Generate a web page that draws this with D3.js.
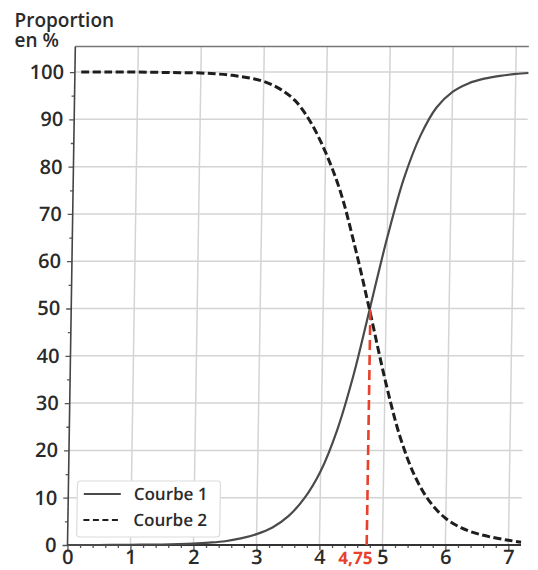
<!DOCTYPE html>
<html>
<head>
<meta charset="utf-8">
<script src="https://cdn.jsdelivr.net/npm/d3@7"></script>
<style>
  html, body { margin: 0; padding: 0; background: #fff; }
  svg { display: block; }
</style>
</head>
<body>
<svg id="chart" width="538" height="570"></svg>
<script>
// ---- data ----
const xTicks = [0, 1, 2, 3, 4, 5, 6, 7];
const yTicks = [0, 10, 20, 30, 40, 50, 60, 70, 80, 90, 100];
const seriesNames = ["Courbe 1", "Courbe 2"];

const curve1X = [0, 0.5, 1, 1.5, 2, 2.25, 2.5, 2.75, 3, 3.25, 3.5, 3.75, 4, 4.25, 4.5, 4.75, 5, 5.25, 5.5, 5.75, 6, 6.25, 6.5, 6.75, 7, 7.2];
const curve1Y = [0, 0, 0.05, 0.1, 0.3, 0.5, 0.8, 1.4, 2.3, 3.7, 6.1, 9.9, 15.6, 24.2, 36, 50.5, 65, 77.5, 86.5, 92.5, 95.8, 97.6, 98.6, 99.2, 99.6, 99.8];

const curve2X = [0.1, 0.5, 1, 1.5, 2, 2.25, 2.5, 2.75, 3, 3.25, 3.5, 3.75, 4, 4.25, 4.5, 4.75, 5, 5.25, 5.5, 5.75, 6, 6.25, 6.5, 6.75, 7, 7.2];
const curve2Y = [100, 100, 100, 99.9, 99.8, 99.6, 99.3, 98.8, 98, 96.5, 94, 89.5, 83, 74.5, 62.5, 49, 35, 23, 14.5, 9, 5.6, 3.6, 2.4, 1.6, 1.0, 0.6];

const markX = 4.75;
const markY = 50;
const markLabel = "4,75";

// ---- layout ----
const svg = d3.select("#chart");
const x = d3.scaleLinear().domain([0, 7.2]).range([67.5, 521]);
const y = d3.scaleLinear().domain([0, 105.4]).range([545, 46.5]);

const font = "'Open Sans', 'DejaVu Sans', sans-serif";

// title
svg.append("text").attr("x", 14.5).attr("y", 26.5).attr("font-family", font)
  .attr("font-weight", 600).attr("font-size", 19).attr("fill", "#2a2a2a").text("Proportion");
svg.append("text").attr("x", 14.5).attr("y", 47).attr("font-family", font)
  .attr("font-weight", 600).attr("font-size", 19).attr("fill", "#2a2a2a").text("en %");

// slight scan skew
const g = svg.append("g").attr("transform", "translate(0,545) skewX(-0.9) translate(0,-545)");

// grid
g.append("g").selectAll("line").data(yTicks.filter(d => d > 0)).join("line")
  .attr("x1", x(0)).attr("x2", x(7.2)).attr("y1", d => y(d)).attr("y2", d => y(d))
  .attr("stroke", "#d4d4d4").attr("stroke-width", 1.5);
g.append("g").selectAll("line").data(xTicks.filter(d => d > 0)).join("line")
  .attr("x1", d => x(d)).attr("x2", d => x(d)).attr("y1", y(0)).attr("y2", y(105.4))
  .attr("stroke", "#d4d4d4").attr("stroke-width", 1.5);

// top frame line
g.append("line").attr("x1", x(0)).attr("x2", x(7.2)).attr("y1", y(105.4)).attr("y2", y(105.4))
  .attr("stroke", "#777").attr("stroke-width", 1.5);

// axes
const yAxis = d3.axisLeft(y).tickValues(yTicks).tickSize(5).tickPadding(6).tickFormat(d3.format("d"));
const yMinor = d3.axisLeft(y).tickValues(d3.range(5, 105, 10)).tickSize(3).tickFormat("");
const xAxis = d3.axisBottom(x).tickValues(xTicks).tickSize(5).tickPadding(4).tickFormat(d3.format("d"));
const xMinor = d3.axisBottom(x).tickValues(d3.range(0.2, 7.2, 0.2).filter(v => Math.abs(v - Math.round(v)) > 0.05)).tickSize(3).tickFormat("");

function styleAxis(sel) {
  sel.select(".domain").remove();
  sel.selectAll(".tick line").attr("stroke", "#555").attr("stroke-width", 1.3);
  sel.selectAll(".tick text").attr("font-family", font).attr("font-weight", 600)
    .attr("font-size", 20).attr("fill", "#2a2a2a");
}
g.append("g").attr("transform", `translate(${x(0)},0)`).call(yMinor).call(styleAxis);
g.append("g").attr("transform", `translate(${x(0)},0)`).call(yAxis).call(styleAxis);
g.append("g").attr("transform", `translate(0,${y(0)})`).call(xMinor).call(styleAxis);
const xa = g.append("g").attr("transform", `translate(0,${y(0)})`).call(xAxis).call(styleAxis);
xa.selectAll(".tick text").attr("dy", "10px");

// spines
g.append("line").attr("x1", x(0)).attr("x2", x(0)).attr("y1", y(0)).attr("y2", y(105.4))
  .attr("stroke", "#444").attr("stroke-width", 1.6);
g.append("line").attr("x1", x(0)).attr("x2", x(7.2)).attr("y1", y(0)).attr("y2", y(0))
  .attr("stroke", "#333").attr("stroke-width", 2);

// curves
const line = d3.line().x(d => x(d[0])).y(d => y(d[1])).curve(d3.curveCatmullRom.alpha(0.5));
const c1 = d3.zip(curve1X, curve1Y);
const c2 = d3.zip(curve2X, curve2Y);

g.append("path").datum(c1).attr("d", line).attr("fill", "none")
  .attr("stroke", "#4a4a4a").attr("stroke-width", 2.2);
g.append("path").datum(c2).attr("d", line).attr("fill", "none")
  .attr("stroke", "#1e1e1e").attr("stroke-width", 3).attr("stroke-dasharray", "8,3.5");

// red marker
g.append("line").attr("x1", x(markX)).attr("x2", x(markX)).attr("y1", y(0)).attr("y2", y(markY))
  .attr("stroke", "#e8402a").attr("stroke-width", 2.6).attr("stroke-dasharray", "10,5");
g.append("text").attr("x", x(markX) + 6).attr("y", 564).attr("text-anchor", "end")
  .attr("font-family", font).attr("font-weight", 700).attr("font-size", 17)
  .attr("fill", "#e8402a").text(markLabel);

// legend
const lg = g.append("g");
lg.append("rect").attr("x", 76.5).attr("y", 481).attr("width", 143).attr("height", 56).attr("rx", 3)
  .attr("fill", "#fff").attr("stroke", "#dcdcdc").attr("stroke-width", 1.2);
const styles = [
  { stroke: "#4a4a4a", width: 2.2, dash: null },
  { stroke: "#1e1e1e", width: 2.2, dash: "6,3.5" }
];
seriesNames.forEach((name, i) => {
  const yy = 494 + i * 26;
  lg.append("line").attr("x1", 83).attr("x2", 120).attr("y1", yy).attr("y2", yy)
    .attr("stroke", styles[i].stroke).attr("stroke-width", styles[i].width)
    .attr("stroke-dasharray", styles[i].dash);
  lg.append("text").attr("x", 133).attr("y", yy + 6.5).attr("font-family", font)
    .attr("font-weight", 600).attr("font-size", 17).attr("fill", "#2a2a2a").text(name);
});
</script>
</body>
</html>
